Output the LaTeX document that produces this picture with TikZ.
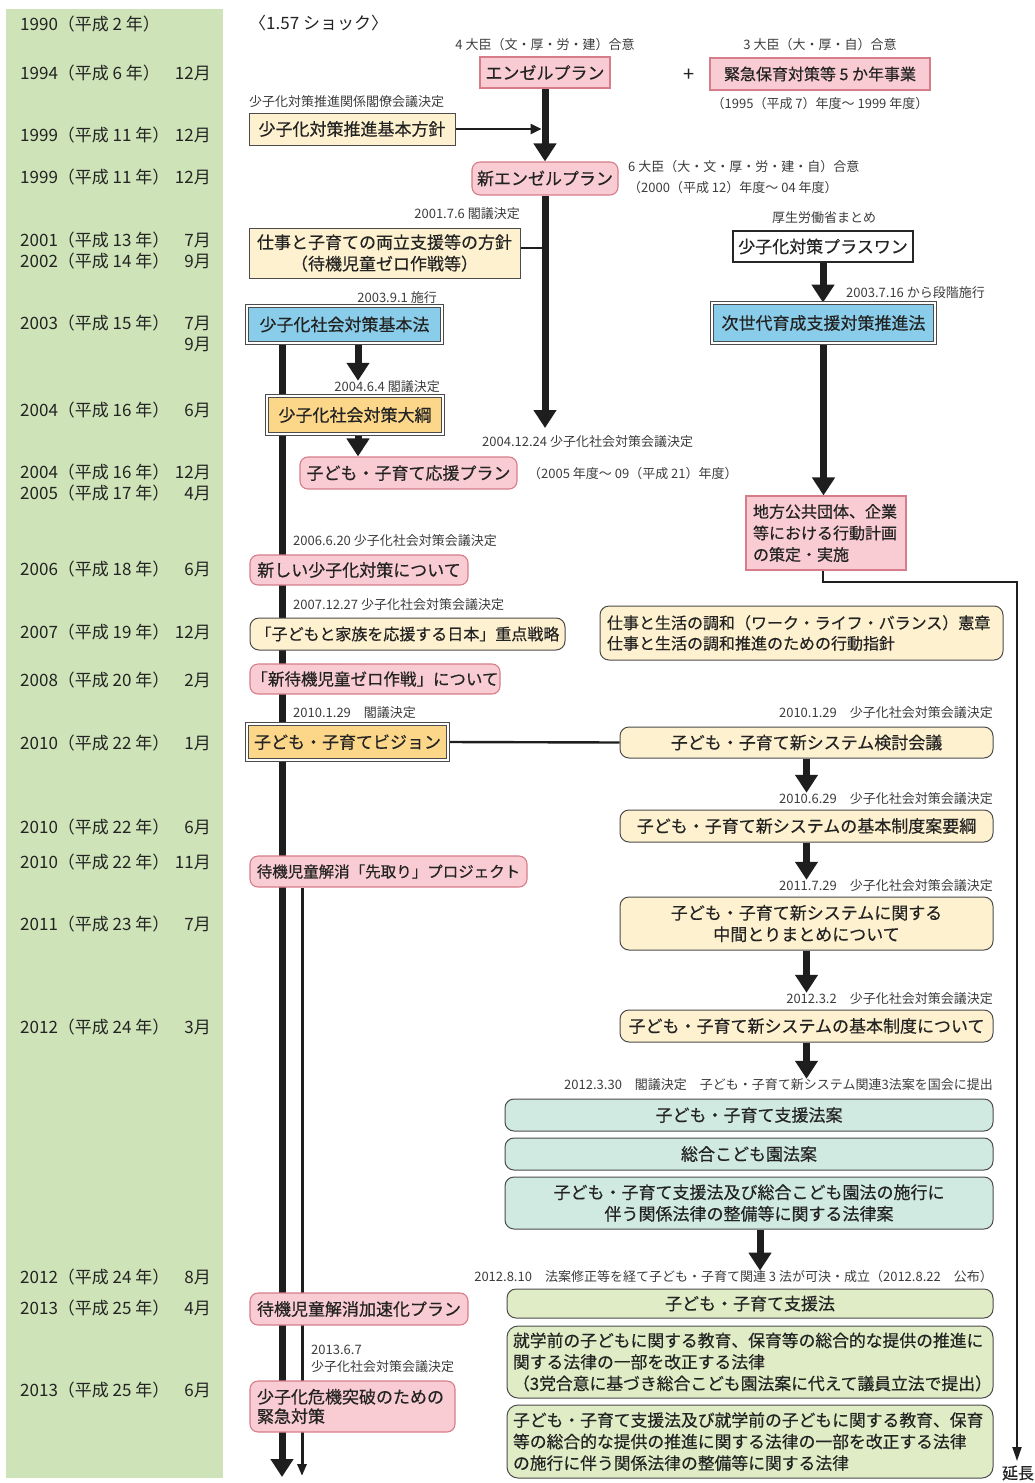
\documentclass[tikz,border=0pt]{standalone}
\usepackage{fontspec}
\setmainfont{Noto Sans CJK JP}
\newfontfamily\boxfont{Noto Sans CJK JP}[FakeBold=0.4]
\usetikzlibrary{arrows.meta,backgrounds}
\newcommand\fsz[2]{\fontsize{#1}{#2}\selectfont}
\definecolor{colgreen}{RGB}{206,228,184}
\definecolor{pinkfill}{RGB}{248,204,210}
\definecolor{pinkdraw}{RGB}{214,125,137}
\definecolor{creamfill}{RGB}{254,241,207}
\definecolor{yelfill}{RGB}{252,214,137}
\definecolor{bluefill}{RGB}{137,205,234}
\definecolor{tealfill}{RGB}{208,234,225}
\definecolor{lgrfill}{RGB}{223,236,197}
\definecolor{txt}{RGB}{35,35,35}
\definecolor{notec}{RGB}{60,60,60}
\definecolor{boxline}{RGB}{75,75,75}
\definecolor{arrowc}{RGB}{30,30,30}
\tikzset{
 boxbase/.style={inner sep=0pt, align=center, text=txt, font=\boxfont\fsz{17}{21.5}},
 pinksq/.style={boxbase, fill=pinkfill, draw=pinkdraw, line width=1.1pt},
 pinkrnd/.style={pinksq, rounded corners=8pt},
 creamsq/.style={boxbase, fill=creamfill, draw=boxline, line width=1pt},
 creamrnd/.style={creamsq, rounded corners=9pt},
 dbl/.style={boxbase, draw=boxline, line width=0.8pt, double=white, double distance=2pt},
 bluebox/.style={dbl, fill=bluefill},
 yelbox/.style={dbl, fill=yelfill},
 plainbox/.style={boxbase, fill=white, draw=black!85, line width=1.2pt},
 tealbox/.style={boxbase, fill=tealfill, draw=boxline, line width=1pt, rounded corners=9pt},
 lgrbox/.style={boxbase, fill=lgrfill, draw=boxline, line width=1pt, rounded corners=11pt},
 note/.style={inner sep=0pt, text=notec, font=\fsz{13}{17}},
 yearlbl/.style={inner sep=0pt, anchor=west, text=txt, font=\fsz{17}{20}},
 monthlbl/.style={inner sep=0pt, anchor=east, text=txt, font=\fsz{17}{20}},
 bigarrow/.style={draw=arrowc, line width=7pt, -{Triangle[width=22pt,length=18pt]}},
 thinarrow/.style={draw=arrowc, line width=2.4pt, -{Triangle[width=10pt,length=11pt]}},
 conn/.style={draw=arrowc, line width=2.4pt},
 encarrow/.style={draw=arrowc, line width=2pt, -{Triangle[width=9pt,length=14pt]}},
 sidearrow/.style={draw=arrowc, line width=3pt, -{Triangle[width=9pt,length=12pt]}},
}
\begin{document}
\begin{tikzpicture}[x=1pt,y=-1pt]
\useasboundingbox (0,0) rectangle (1035,1483);

% ---- year column labels
\node[yearlbl] (y1990) at (20,24) {1990（平成 2 年）};
\node[yearlbl] (y1994) at (20,73) {1994（平成 6 年）};
\node[monthlbl] (m1994) at (211,73) {12月};
\node[yearlbl] (y1999a) at (20,135) {1999（平成 11 年）};
\node[monthlbl] (m1999a) at (211,135) {12月};
\node[yearlbl] (y1999b) at (20,177) {1999（平成 11 年）};
\node[monthlbl] (m1999b) at (211,177) {12月};
\node[yearlbl] (y2001) at (20,240) {2001（平成 13 年）};
\node[monthlbl] (m2001) at (211,240) {7月};
\node[yearlbl] (y2002) at (20,261) {2002（平成 14 年）};
\node[monthlbl] (m2002) at (211,261) {9月};
\node[yearlbl] (y2003) at (20,323) {2003（平成 15 年）};
\node[monthlbl] (m2003a) at (211,323) {7月};
\node[monthlbl] (m2003b) at (211,344) {9月};
\node[yearlbl] (y2004a) at (20,410) {2004（平成 16 年）};
\node[monthlbl] (m2004a) at (211,410) {6月};
\node[yearlbl] (y2004b) at (20,472) {2004（平成 16 年）};
\node[monthlbl] (m2004b) at (211,472) {12月};
\node[yearlbl] (y2005) at (20,493) {2005（平成 17 年）};
\node[monthlbl] (m2005) at (211,493) {4月};
\node[yearlbl] (y2006) at (20,569) {2006（平成 18 年）};
\node[monthlbl] (m2006) at (211,569) {6月};
\node[yearlbl] (y2007) at (20,632) {2007（平成 19 年）};
\node[monthlbl] (m2007) at (211,632) {12月};
\node[yearlbl] (y2008) at (20,680) {2008（平成 20 年）};
\node[monthlbl] (m2008) at (211,680) {2月};
\node[yearlbl] (y2010a) at (20,743) {2010（平成 22 年）};
\node[monthlbl] (m2010a) at (211,743) {1月};
\node[yearlbl] (y2010b) at (20,827) {2010（平成 22 年）};
\node[monthlbl] (m2010b) at (211,827) {6月};
\node[yearlbl] (y2010c) at (20,862) {2010（平成 22 年）};
\node[monthlbl] (m2010c) at (211,862) {11月};
\node[yearlbl] (y2011) at (20,924) {2011（平成 23 年）};
\node[monthlbl] (m2011) at (211,924) {7月};
\node[yearlbl] (y2012a) at (20,1027) {2012（平成 24 年）};
\node[monthlbl] (m2012a) at (211,1027) {3月};
\node[yearlbl] (y2012b) at (20,1277) {2012（平成 24 年）};
\node[monthlbl] (m2012b) at (211,1277) {8月};
\node[yearlbl] (y2013a) at (20,1308) {2013（平成 25 年）};
\node[monthlbl] (m2013a) at (211,1308) {4月};
\node[yearlbl] (y2013b) at (20,1390) {2013（平成 25 年）};
\node[monthlbl] (m2013b) at (211,1390) {6月};

% ---- top
\node[inner sep=0pt, anchor=west, text=txt, font=\fsz{17}{20}] (shock) at (249,23) {〈1.57 ショック〉};
\node[note] (n4) at (545,45) {4 大臣（文・厚・労・建）合意};
\node[pinksq, minimum width=130pt, minimum height=31pt] (angel) at (545,72.5) {エンゼルプラン};
\node[inner sep=0pt, text=txt, font=\fsz{20}{22}] (plus) at (689,75) {+};
\node[note] (n3) at (820,45) {3 大臣（大・厚・自）合意};
\node[pinksq, minimum width=220pt, minimum height=32pt, font=\boxfont\fsz{16}{20}] (kinkyu) at (820,74) {緊急保育対策等 5 か年事業};
\node[note] (p1) at (820,104) {（1995（平成 7）年度～ 1999 年度）};
\node[note, anchor=west] (nkakuryo) at (249,102) {少子化対策推進関係閣僚会議決定};
\node[creamsq, minimum width=206pt, minimum height=32pt] (hoshin) at (352,129) {少子化対策推進基本方針};
\node[pinkrnd, minimum width=146pt, minimum height=33pt] (newangel) at (545,178.5) {新エンゼルプラン};
\node[note, anchor=west] (n6) at (628,167) {6 大臣（大・文・厚・労・建・自）合意};
\node[note, anchor=west] (p2) at (628,188) {（2000（平成 12）年度～ 04 年度）};
\node[note, anchor=east] (n2001) at (520,214) {2001.7.6 閣議決定};
\node[creamsq, minimum width=271pt, minimum height=50pt] (ryoritsu) at (384.5,253) {仕事と子育ての両立支援等の方針\\（待機児童ゼロ作戦等）};
\node[note] (nkosei) at (824,218) {厚生労働省まとめ};
\node[plainbox, minimum width=180pt, minimum height=31pt] (plusone) at (823,246.5) {少子化対策プラスワン};
\node[note, anchor=west] (n20037) at (846,293) {2003.7.16 から段階施行};
\node[note, anchor=east] (n20039) at (437,298) {2003.9.1 施行};
\node[bluebox, minimum width=195pt, minimum height=37pt] (kihonhou) at (344.5,324.5) {少子化社会対策基本法};
\node[bluebox, minimum width=223pt, minimum height=40pt] (jisedai) at (823.5,323) {次世代育成支援対策推進法};
\node[note, anchor=east] (n20046) at (440,387) {2004.6.4 閣議決定};
\node[yelbox, minimum width=176pt, minimum height=38pt] (taiko) at (355,415) {少子化社会対策大綱};
\node[note, anchor=west] (n200412) at (482,442) {2004.12.24 少子化社会対策会議決定};
\node[pinkrnd, minimum width=217pt, minimum height=32pt] (ouen) at (408.5,473) {子ども・子育て応援プラン};
\node[note, anchor=west] (p3) at (528,474) {（2005 年度～ 09（平成 21）年度）};
\node[pinksq, minimum width=160pt, minimum height=74pt, align=left, text width=146pt, inner xsep=7pt, font=\boxfont\fsz{16}{21.5}] (chiho) at (826,533) {地方公共団体、企業\\等における行動計画\\の策定・実施};

% ---- middle
\node[note, anchor=west] (n2006) at (293,541) {2006.6.20 少子化社会対策会議決定};
\node[pinkrnd, minimum width=218pt, minimum height=30pt] (atarashii) at (359,570) {新しい少子化対策について};
\node[note, anchor=west] (n2007) at (293,605) {2007.12.27 少子化社会対策会議決定};
\node[creamrnd, minimum width=315pt, minimum height=32pt, font=\boxfont\fsz{16}{20}] (juten) at (407.5,634) {「子どもと家族を応援する日本」重点戦略};
\node[creamrnd, minimum width=403pt, minimum height=54pt, align=left, text width=389pt, inner xsep=7pt, font=\boxfont\fsz{16}{20.5}] (wlb) at (801.5,633) {仕事と生活の調和（ワーク・ライフ・バランス）憲章\\仕事と生活の調和推進のための行動指針};
\node[pinkrnd, minimum width=250pt, minimum height=30pt, font=\boxfont\fsz{16.5}{20}] (shintaiki) at (375,679) {「新待機児童ゼロ作戦」について};
\node[note, anchor=west] (n2010a) at (293,713) {2010.1.29\quad 閣議決定};
\node[yelbox, minimum width=201pt, minimum height=36pt] (vision) at (347.5,742) {子ども・子育てビジョン};
\node[note, anchor=east] (n2010b) at (993,713) {2010.1.29\quad 少子化社会対策会議決定};
\node[creamrnd, minimum width=373pt, minimum height=31pt] (kento) at (806.5,742.5) {子ども・子育て新システム検討会議};
\node[note, anchor=east] (n2010c) at (993,799) {2010.6.29\quad 少子化社会対策会議決定};
\node[creamrnd, minimum width=373pt, minimum height=32pt] (yoko) at (806.5,826) {子ども・子育て新システムの基本制度案要綱};
\node[note, anchor=east] (n2011) at (993,886) {2011.7.29\quad 少子化社会対策会議決定};
\node[creamrnd, minimum width=373pt, minimum height=53pt] (chukan) at (806.5,923.5) {子ども・子育て新システムに関する\\中間とりまとめについて};
\node[pinkrnd, minimum width=277pt, minimum height=31pt, font=\boxfont\fsz{15.5}{20}] (sakidori) at (388.5,871.5) {待機児童解消「先取り」プロジェクト};
\node[note, anchor=east] (n2012a) at (993,999) {2012.3.2\quad 少子化社会対策会議決定};
\node[creamrnd, minimum width=373pt, minimum height=32pt] (seido) at (806.5,1026) {子ども・子育て新システムの基本制度について};
\node[note, anchor=east] (n2012b) at (993,1085) {2012.3.30\quad 閣議決定\quad 子ども・子育て新システム関連3法案を国会に提出};
\node[tealbox, minimum width=488pt, minimum height=32pt] (teal1) at (749,1115) {子ども・子育て支援法案};
\node[tealbox, minimum width=488pt, minimum height=32pt] (teal2) at (749,1154) {総合こども園法案};
\node[tealbox, minimum width=488pt, minimum height=52pt] (teal3) at (749,1203) {子ども・子育て支援法及び総合こども園法の施行に\\伴う関係法律の整備等に関する法律案};
\node[note, anchor=east] (n2012c) at (993,1277) {2012.8.10\quad 法案修正等を経て子ども・子育て関連 3 法が可決・成立（2012.8.22\quad 公布）};
\node[lgrbox, rounded corners=9pt, minimum width=486pt, minimum height=29pt] (green1) at (750,1303.5) {子ども・子育て支援法};
\node[lgrbox, minimum width=486pt, minimum height=72pt, align=left, text width=474pt, inner xsep=6pt, font=\boxfont\fsz{16.8}{21.5}] (green2) at (750,1362) {就学前の子どもに関する教育、保育等の総合的な提供の推進に\\関する法律の一部を改正する法律\\（3党合意に基づき総合こども園法案に代えて議員立法で提出）};
\node[lgrbox, minimum width=486pt, minimum height=73pt, align=left, text width=474pt, inner xsep=6pt, font=\boxfont\fsz{16.8}{21.5}] (green3) at (750,1441.5) {子ども・子育て支援法及び就学前の子どもに関する教育、保育\\等の総合的な提供の推進に関する法律の一部を改正する法律\\の施行に伴う関係法律の整備等に関する法律};
\node[pinkrnd, minimum width=218pt, minimum height=32pt] (kasoku) at (359,1309) {待機児童解消加速化プラン};
\node[note, anchor=west, align=left] (n2013) at (311,1359) {2013.6.7\\少子化社会対策会議決定};
\node[pinkrnd, minimum width=205pt, minimum height=51pt, align=left, text width=191pt, inner xsep=7pt, font=\boxfont\fsz{17}{19.5}] (kiki) at (352.5,1406.5) {少子化危機突破のための\\緊急対策};
\node[inner sep=0pt, text=txt, font=\boxfont\fsz{16}{20}] (enchou) at (1018,1473) {延長};

% ---- free ends
\coordinate (angelEnd) at (545,428);
\coordinate (mainEnd) at (282,1477);
\coordinate (thinEnd) at (302,1476);
\coordinate (encCorner) at (1017,582);
\coordinate (encEnd) at (1017,1461);

% ---- background: column and connectors
\begin{scope}[on background layer]
\fill[colgreen] (6,9) rectangle (223,1478);
\draw[bigarrow] (angel.south) -- (newangel.north);
\draw[thinarrow] (hoshin.east) -- ([xshift=-3.5pt]hoshin.east -| newangel.south);
\draw[conn] ([yshift=5pt]ryoritsu.east) -- ([yshift=5pt]ryoritsu.east -| newangel.south);
\draw[bigarrow] (newangel.south) -- (angelEnd);
\draw[bigarrow] (plusone.south) -- (plusone.south |- jisedai.north);
\draw[bigarrow] ([xshift=3pt]taiko.north |- kihonhou.south) -- ([xshift=3pt]taiko.north |- n20046.north);
\draw[bigarrow] ([xshift=3pt]taiko.south) -- ([xshift=3pt]taiko.south |- ouen.north);
\draw[bigarrow] (jisedai.south) -- (jisedai.south |- chiho.north);
\draw[encarrow] ([xshift=-3pt]chiho.south) |- (encCorner) -- (encEnd);
\draw[bigarrow] (kihonhou.south -| mainEnd) -- (mainEnd);
\draw[sidearrow] (sakidori.south -| thinEnd) -- (thinEnd);
\draw[conn] (vision.east) -- (kento.west);
\draw[bigarrow] (kento.south) -- (kento.south |- n2010c.north);
\draw[bigarrow] (yoko.south) -- (yoko.south |- n2011.north);
\draw[bigarrow] (chukan.south) -- (chukan.south |- n2012a.north);
\draw[bigarrow] (seido.south) -- (seido.south |- n2012b.north);
\draw[bigarrow] ([xshift=11pt]teal3.south) -- ([xshift=11pt]teal3.south |- n2012c.north);
\end{scope}
\end{tikzpicture}
\end{document}
